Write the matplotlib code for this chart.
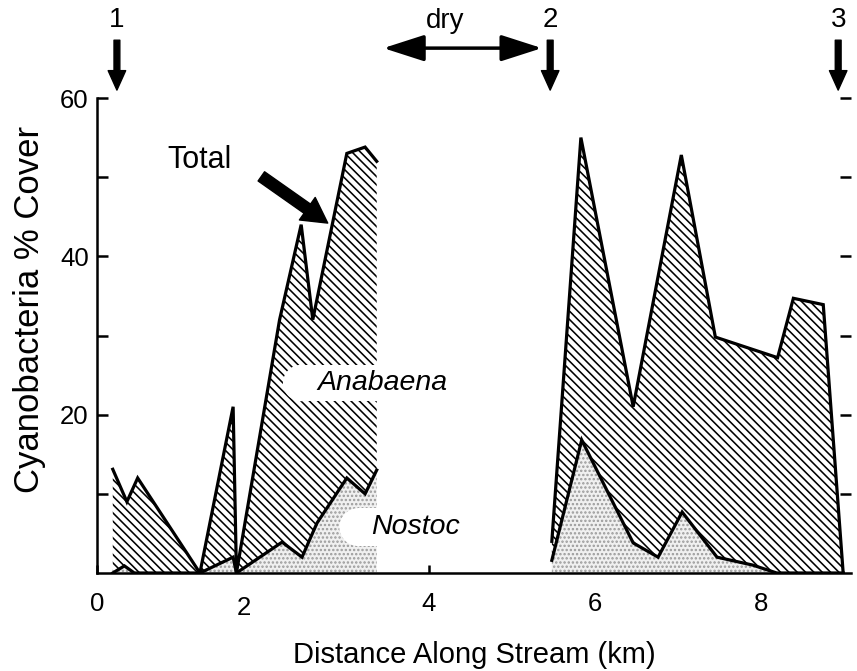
import numpy as np
import matplotlib
matplotlib.use('Agg')
import matplotlib.pyplot as plt
from matplotlib.patches import Ellipse, Rectangle
import matplotlib.transforms as mtransforms

plt.rcParams['font.family'] = ['Liberation Sans', 'DejaVu Sans']
plt.rcParams['hatch.linewidth'] = 1.15

# Reach upstream of the dry section
total1_x = [0.19, 0.36, 0.49, 1.24, 1.64, 1.68, 2.20, 2.46, 2.60, 3.01, 3.23, 3.37]
total1_y = [13.1, 9.0, 12.0, 0.0, 21.0, 0.0, 32.0, 44.0, 32.0, 53.0, 53.8, 52.0]
nostoc1_x = [0.19, 0.33, 0.45, 1.24, 1.64, 1.68, 2.23, 2.47, 2.65, 3.01, 3.23, 3.37]
nostoc1_y = [0.0, 0.9, 0.0, 0.0, 2.0, 0.0, 3.9, 2.0, 6.3, 12.0, 10.0, 13.0]

# Reach downstream of the dry section
total2_x = [5.48, 5.83, 6.46, 7.04, 7.45, 8.20, 8.39, 8.75, 8.99]
total2_y = [4.0, 55.0, 21.0, 52.8, 29.8, 27.2, 34.7, 33.9, 0.0]
nostoc2_x = [5.48, 5.84, 6.46, 6.76, 7.05, 7.47, 7.90, 8.19, 8.99]
nostoc2_y = [1.6, 16.8, 3.8, 2.0, 7.7, 2.0, 1.0, 0.0, 0.0]

site_x = [0.24, 5.46, 8.93]
site_labels = ['1', '2', '3']
xticks = [0, 2, 4, 6, 8]
yticks_major = [20, 40, 60]
yticks_all = [10, 20, 30, 40, 50, 60]

fig = plt.figure(figsize=(8.57, 6.71), dpi=100)
ax = fig.add_axes([97/857, 98/671, (851-97)/857, (573-98)/671])
ax.set_xlim(0, (851-97)/83)
ax.set_ylim(0, 60)

reaches = [(total1_x, total1_y, nostoc1_x, nostoc1_y),
           (total2_x, total2_y, nostoc2_x, nostoc2_y)]
for tx, ty, nx, ny in reaches:
    tx, ty, nx, ny = map(np.asarray, (tx, ty, nx, ny))
    ax.fill(np.r_[tx, nx[::-1]], np.r_[ty, ny[::-1]], facecolor='white',
            edgecolor='black', hatch='\\\\\\\\', linewidth=0, zorder=2)
    ax.fill_between(nx, 0, ny, facecolor='#f0f0f0', edgecolor='#9a9a9a',
                    hatch='....', linewidth=0, zorder=2)
    ax.plot(tx, ty, color='black', lw=2.3, zorder=4, solid_joinstyle='miter')
    ax.plot(nx, ny, color='black', lw=2.3, zorder=4, solid_joinstyle='miter')

# white label backgrounds
def pill(xl, yc, xr, hh):
    rx = hh * 7.917 / 83
    ax.add_patch(Ellipse((xl + rx, yc), 2 * rx, 2 * hh, facecolor='white',
                         edgecolor='none', zorder=5))
    ax.add_patch(Rectangle((xl + rx, yc - hh), xr - xl - rx, 2 * hh,
                           facecolor='white', edgecolor='none', zorder=5))

pill(2.24, 24.0, 4.3, 2.3)
pill(2.92, 5.8, 4.6, 2.4)

ax.text(2.66, 24.0, 'Anabaena', style='italic', fontsize=20.5, ha='left',
        va='center', zorder=6)
ax.text(3.30, 5.8, 'Nostoc', style='italic', fontsize=20.5, ha='left',
        va='center', zorder=6)

ax.text(1.24, 52.2, 'Total', fontsize=22, ha='center', va='center', zorder=6)
ax.annotate('', xy=(2.78, 44.2), xytext=(1.98, 50.1),
            arrowprops=dict(arrowstyle='simple,head_width=1.1,head_length=1.0,tail_width=0.45',
                            facecolor='black', edgecolor='black', shrinkA=0, shrinkB=0,
                            mutation_scale=18), zorder=6)

# site arrows
for sx, lab in zip(site_x, site_labels):
    ax.text(sx, 69.8, lab, fontsize=20, ha='center', va='center', clip_on=False)
    ax.annotate('', xy=(sx, 61.0), xytext=(sx, 67.3), annotation_clip=False,
                arrowprops=dict(arrowstyle='simple,head_width=0.9,head_length=1.0,tail_width=0.3',
                                facecolor='black', edgecolor='black', shrinkA=0, shrinkB=0,
                                mutation_scale=14))

# dry section
ax.text(4.19, 69.7, 'dry', fontsize=20, ha='center', va='center', clip_on=False)
ax.annotate('', xy=(5.36, 66.3), xytext=(3.45, 66.3), annotation_clip=False,
            arrowprops=dict(arrowstyle='<|-|>,head_width=0.45,head_length=1.4',
                            facecolor='black', edgecolor='black', lw=2.5,
                            shrinkA=0, shrinkB=0, mutation_scale=18))

# axes styling
for s in ['top', 'right']:
    ax.spines[s].set_visible(False)
for s in ['left', 'bottom']:
    ax.spines[s].set_linewidth(1.8)
ax.set_xticks(xticks)
ax.set_xticklabels([str(v) for v in xticks])
ax.set_yticks(yticks_all)
ax.set_yticklabels([str(v) if v in yticks_major else '' for v in yticks_all])
ax.tick_params(axis='both', direction='in', length=8, width=1.8, labelsize=18.5,
               right=True, left=True, bottom=True, top=False)
ax.tick_params(axis='y', pad=6)
ax.tick_params(axis='x', pad=14, length=6)

lab2 = ax.get_xticklabels()[1]
lab2.set_transform(lab2.get_transform() +
                   mtransforms.ScaledTranslation(-19/100, -4/100, fig.dpi_scale_trans))

ax.set_xlabel('Distance Along Stream (km)', fontsize=21, labelpad=15)
ax.set_ylabel('Cyanobacteria % Cover', fontsize=25)
ax.yaxis.set_label_coords(-0.068, 0.555)

fig.savefig('out.png', dpi=100)
